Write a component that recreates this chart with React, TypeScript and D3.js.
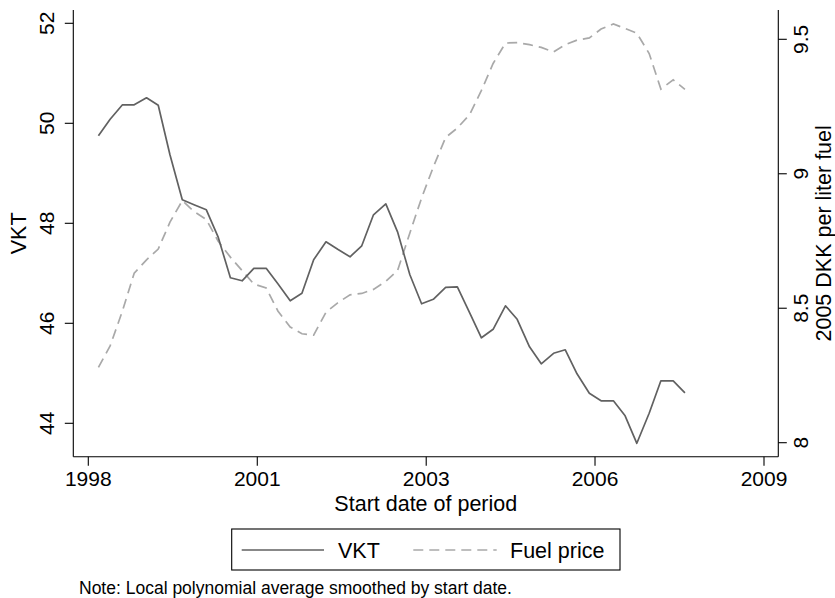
import React from "react";
import * as d3 from "d3";

// ---- data ----
const periodStart = [
  1998.49, 1998.68, 1998.88, 1999.07, 1999.27, 1999.46, 1999.65, 1999.85, 2000.04, 2000.24,
  2000.43, 2000.63, 2000.82, 2001.01, 2001.21, 2001.4, 2001.6, 2001.79, 2001.98, 2002.18,
  2002.37, 2002.57, 2002.76, 2002.95, 2003.15, 2003.34, 2003.54, 2003.73, 2003.92, 2004.12,
  2004.31, 2004.51, 2004.7, 2004.89, 2005.09, 2005.28, 2005.48, 2005.67, 2005.87, 2006.06,
  2006.25, 2006.45, 2006.64, 2006.84, 2007.03, 2007.22, 2007.42, 2007.61, 2007.81, 2008.0,
];
const vkt = [
  49.75, 50.08, 50.37, 50.37, 50.51, 50.36, 49.37, 48.47, 48.37, 48.27,
  47.73, 46.91, 46.85, 47.1, 47.1, 46.79, 46.45, 46.6, 47.27, 47.63,
  47.48, 47.33, 47.55, 48.17, 48.39, 47.83, 46.97, 46.39, 46.48, 46.72,
  46.73, 46.21, 45.71, 45.88, 46.35, 46.08, 45.53, 45.19, 45.4, 45.47,
  44.99, 44.6, 44.45, 44.45, 44.15, 43.6, 44.2, 44.85, 44.85, 44.61,
];
const fuelPrice = [
  8.28, 8.36, 8.49, 8.63, 8.68, 8.72, 8.82, 8.9, 8.86, 8.83,
  8.75, 8.69, 8.64, 8.59, 8.575, 8.49, 8.43, 8.405, 8.4, 8.485,
  8.52, 8.55, 8.555, 8.57, 8.6, 8.64, 8.78, 8.91, 9.025, 9.135,
  9.17, 9.22, 9.31, 9.41, 9.486, 9.488, 9.48, 9.47, 9.453, 9.48,
  9.497, 9.505, 9.538, 9.557, 9.54, 9.523, 9.447, 9.315, 9.349, 9.314,
];
const xTickValues = [1998.326, 2001.066, 2003.805, 2006.542, 2009.282];
const xTickLabels = ["1998", "2001", "2003", "2006", "2009"];
const vktTicks = [44, 46, 48, 50, 52];
const fuelTicks = [8, 8.5, 9, 9.5];
const fuelTickLabels = ["8", "8.5", "9", "9.5"];
const seriesNames = ["VKT", "Fuel price"];
const xTitle = "Start date of period";
const yLeftTitle = "VKT";
const yRightTitle = "2005 DKK per liter fuel";
const noteText = "Note: Local polynomial average smoothed by start date.";

const W = 835;
const H = 598;
const FONT = "'Liberation Sans', Arial, Helvetica, sans-serif";
const VKT_COLOR = "#616161";
const FUEL_COLOR = "#a9a9a9";
const DASH = "10,6";

export default function App() {
  const plotLeft = 73.3;
  const plotRight = 778.3;
  const plotTop = 10;
  const plotBottom = 456.7;

  const x = d3.scaleLinear().domain([1998.326, 2009.282]).range([88.3, 764]);
  const yL = d3.scaleLinear().domain([44, 52]).range([423.3, 23.3]);
  const yR = d3.scaleLinear().domain([8, 9.5]).range([442.7, 39.3]);

  const vktPath = d3
    .line<number>()
    .x((_, i) => x(periodStart[i]))
    .y((d) => yL(d))(vkt) as string;
  const fuelPath = d3
    .line<number>()
    .x((_, i) => x(periodStart[i]))
    .y((d) => yR(d))(fuelPrice) as string;

  const midY = (plotTop + plotBottom) / 2;
  const midX = (plotLeft + plotRight) / 2;
  const tickLen = 8.5;

  // legend geometry
  const lgLeft = 231.7, lgRight = 620, lgTop = 529, lgBottom = 570;
  const lgY = 550;

  return (
    <svg
      width={W}
      height={H}
      style={{ position: "fixed", left: 0, top: 0, background: "#fff" }}
      fontFamily={FONT}
    >
      <rect x={0} y={0} width={W} height={H} fill="#fff" />

      {/* series */}
      <path d={fuelPath} fill="none" stroke={FUEL_COLOR} strokeWidth={1.7} strokeDasharray={DASH} />
      <path d={vktPath} fill="none" stroke={VKT_COLOR} strokeWidth={1.7} strokeLinejoin="round" />

      {/* axes lines */}
      <line x1={plotLeft} x2={plotLeft} y1={plotTop} y2={plotBottom} stroke="#000" strokeWidth={1.1} />
      <line x1={plotRight} x2={plotRight} y1={plotTop} y2={plotBottom} stroke="#000" strokeWidth={1.1} />
      <line x1={plotLeft} x2={plotRight} y1={plotBottom} y2={plotBottom} stroke="#000" strokeWidth={1.1} />

      {/* left ticks */}
      {vktTicks.map((t) => (
        <g key={"l" + t}>
          <line x1={plotLeft - tickLen} x2={plotLeft} y1={yL(t)} y2={yL(t)} stroke="#000" strokeWidth={1.1} />
          <text
            transform={`translate(46.7,${yL(t)}) rotate(-90)`}
            textAnchor="middle"
            dy="0.358em"
            fontSize={21}
            fill="#000"
          >
            {String(t)}
          </text>
        </g>
      ))}

      {/* right ticks */}
      {fuelTicks.map((t, i) => (
        <g key={"r" + t}>
          <line x1={plotRight} x2={plotRight + tickLen} y1={yR(t)} y2={yR(t)} stroke="#000" strokeWidth={1.1} />
          <text
            transform={`translate(800,${yR(t)}) rotate(-90)`}
            textAnchor="middle"
            dy="0.358em"
            fontSize={21}
            fill="#000"
          >
            {fuelTickLabels[i]}
          </text>
        </g>
      ))}

      {/* bottom ticks */}
      {xTickValues.map((t, i) => (
        <g key={"b" + i}>
          <line x1={x(t)} x2={x(t)} y1={plotBottom} y2={plotBottom + tickLen + 0.5} stroke="#000" strokeWidth={1.1} />
          <text x={x(t)} y={486.3} textAnchor="middle" fontSize={21} fill="#000">
            {xTickLabels[i]}
          </text>
        </g>
      ))}

      {/* axis titles */}
      <text x={midX} y={511} textAnchor="middle" fontSize={21.5} fill="#000">
        {xTitle}
      </text>
      <text
        transform={`translate(18,${midY}) rotate(-90)`}
        textAnchor="middle"
        dy="0.358em"
        fontSize={21.5}
        fill="#000"
      >
        {yLeftTitle}
      </text>
      <text
        transform={`translate(823,${midY}) rotate(-90)`}
        textAnchor="middle"
        dy="0.358em"
        fontSize={21.5}
        fill="#000"
      >
        {yRightTitle}
      </text>

      {/* legend */}
      <rect
        x={lgLeft}
        y={lgTop}
        width={lgRight - lgLeft}
        height={lgBottom - lgTop}
        fill="#fff"
        stroke="#000"
        strokeWidth={1.1}
      />
      <line x1={241.7} x2={324} y1={lgY} y2={lgY} stroke={VKT_COLOR} strokeWidth={1.7} />
      <text x={338} y={558} fontSize={21.5} fill="#000">
        {seriesNames[0]}
      </text>
      <line
        x1={413.3}
        x2={496.7}
        y1={lgY}
        y2={lgY}
        stroke={FUEL_COLOR}
        strokeWidth={1.7}
        strokeDasharray={DASH}
      />
      <text x={510} y={558} fontSize={21.5} fill="#000">
        {seriesNames[1]}
      </text>

      {/* note */}
      <text x={79} y={594} fontSize={17.5} fill="#000">
        {noteText}
      </text>
    </svg>
  );
}
